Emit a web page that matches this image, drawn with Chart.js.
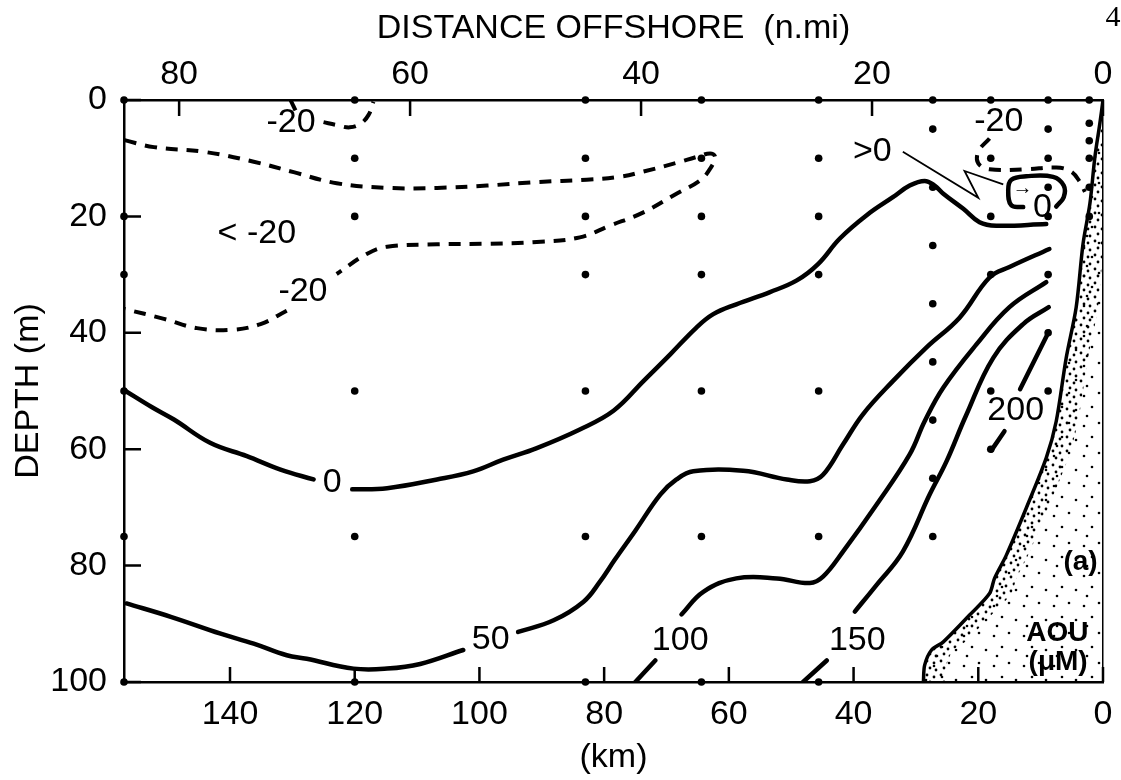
<!DOCTYPE html>
<html>
<head>
<meta charset="utf-8">
<title>AOU section</title>
<script src="https://cdn.jsdelivr.net/npm/chart.js@4.4.0/dist/chart.umd.min.js"></script>
<style>
  html, body { margin: 0; padding: 0; background: #fff; }
  canvas { display: block; }
</style>
</head>
<body>
<canvas id="aouChart" width="1121" height="780"></canvas>
<script>
const KM_PER_NMI = 1.852;
const kmMax = 157;

const kmTicks = [0, 20, 40, 60, 80, 100, 120, 140];
const nmiTicks = [0, 20, 40, 60, 80];
const depthTicks = [0, 20, 40, 60, 80, 100];

// stations: distance offshore (km) and sampled depths (m)
const stationKm = [157, 120, 83, 64.4, 45.6, 27.3, 18, 8.8, 2.2];
const stationDepths = [
    [0, 20, 30, 50, 75, 100],
    [0, 10, 20, 50, 75, 100],
    [0, 10, 20, 30, 50, 75, 100],
    [0, 10, 20, 30, 50, 75, 100],
    [0, 10, 20, 30, 50, 75, 100],
    [0, 5, 15, 25, 35, 45, 55, 65, 75],
    [0, 10, 20, 30, 50, 60],
    [0, 5, 10, 15, 20, 30, 40, 50],
    [0, 4, 7, 10, 15, 20]
];

// contours as [km, depth] pairs, split where the labels sit
const aou0West = [[156.9, 49.9], [152.5, 52.8], [149.0, 54.9], [143.2, 58.9], [137.3, 61.2], [131.9, 63.5], [126.6, 65.2]];
const aou0East = [[120.4, 66.9], [114.8, 66.7], [106.8, 65.2], [101.0, 63.8], [96.2, 61.8], [90.8, 59.8], [83.9, 56.6],
    [78.5, 53.4], [73.7, 48.3], [69.4, 43.7], [65.2, 39.1], [62.5, 36.8], [58.8, 35.1], [53.4, 33.0], [49.1, 31.0],
    [45.7, 28.2], [42.2, 23.8], [37.9, 19.8], [33.7, 16.7], [31.0, 14.7], [28.6, 13.9], [27.0, 14.7], [25.6, 16.1],
    [22.4, 18.7], [19.8, 21.0], [17.1, 21.6], [9.1, 21.3]];
const aou0Loop = [[12.8, 18.4], [14.7, 18.1], [15.2, 15.5], [14.7, 13.7], [12.3, 13.1], [8.0, 13.2], [6.3, 14.7], [6.3, 16.7], [7.5, 18.3]];

const aou50West = [[156.6, 86.5], [149.5, 88.8], [141.5, 91.7], [136.2, 93.4], [130.9, 95.4], [127.7, 96.0], [120.2, 97.7],
    [114.8, 97.7], [109.5, 96.9], [102.6, 94.5]];
const aou50East = [[93.8, 91.4], [88.1, 89.4], [83.3, 86.2], [80.7, 82.8], [78.3, 79.0], [75.0, 74.0], [71.0, 67.8],
    [68.4, 65.2], [65.7, 63.8], [57.7, 63.7], [50.7, 65.2], [47.0, 65.5], [44.9, 64.4], [41.7, 59.2], [38.5, 54.0],
    [33.7, 48.3], [28.3, 42.5], [23.0, 37.4], [18.2, 30.5], [15.0, 28.7], [8.6, 25.6]];

const aou100Foot = [[75.0, 100], [71.8, 96.3]];
const aou100 = [[67.6, 88.4], [64.1, 84.5], [58.8, 82.2], [52.3, 82.2], [47.0, 83.0], [44.9, 81.9], [41.7, 77.6],
    [36.3, 69.5], [31.0, 60.9], [28.6, 55.2], [25.6, 49.4], [20.3, 42.0], [15.0, 35.6], [9.1, 31.3]];

const aou150Foot = [[48.1, 100], [44.3, 96.3]];
const aou150 = [[39.8, 87.9], [36.3, 83.3], [32.1, 77.6], [27.8, 67.8], [25.1, 62.1], [22.0, 54.3], [17.6, 44.3],
    [12.8, 38.5], [8.7, 35.6]];

const aou200 = [[8.7, 39.8], [13.3, 49.7]];
const aou200Tail = [[15.8, 56.9], [17.9, 60.2]];

const aouM20Cap = [[130.3, 0], [129.5, 1.8]];
const aouM20Top = [[125.0, 3.8], [122.9, 4.3], [120.8, 4.7], [119.1, 4.1], [117.8, 2.6], [117.0, 0.3]];
const aouM20Tongue = [[156.9, 6.9], [152.2, 8.1], [144.2, 8.9], [136.2, 10.6], [129.8, 12.4], [122.9, 14.3],
    [114.8, 15.1], [106.8, 15.1], [98.8, 14.7], [90.8, 14.1], [82.8, 13.7], [77.5, 13.2], [73.7, 12.3], [68.4, 10.8],
    [65.2, 9.8], [63.0, 9.2], [62.2, 9.8], [63.0, 11.8], [64.6, 13.8], [68.4, 16.1], [73.7, 19.3], [79.1, 21.6],
    [83.9, 23.6], [90.8, 24.4], [98.8, 24.7], [106.8, 24.8], [114.8, 25.2], [118.0, 26.4], [122.9, 29.9]];
const aouM20Deep = [[130.9, 36.2], [135.1, 38.5], [139.9, 39.5], [145.3, 39.2], [150.6, 37.6], [156.9, 35.9]];
const aouM20Shore = [[18.2, 6.6], [20.0, 8.9], [20.0, 10.9], [18.2, 11.9], [12.3, 11.9], [7.5, 11.6], [5.1, 12.3],
    [3.7, 14.1], [2.9, 15.8]];

const leaderLine = [[32.1, 8.9], [20.0, 16.8], [22.2, 12.2], [16.0, 14.5]];

const seaFloor = [[0, 0], [0.5, 4.0], [1.3, 9.8], [2.1, 17.8], [3.2, 24.7], [4.3, 35.6], [5.9, 44.3], [7.5, 55.2],
    [9.1, 61.5], [12.3, 70.1], [15.5, 78.2], [17.4, 82.2], [18.2, 84.8], [21.4, 88.5], [25.6, 93.1], [27.5, 94.5],
    [28.6, 97.1], [28.8, 100]];

// label text with its [km, depth] anchor
const contourLabels = [
    ['-20', 130.2, 3.9], ['< -20', 135.7, 23.0], ['-20', 128.3, 32.9], ['>0', 37.0, 8.8], ['-20', 16.7, 3.7],
    ['0', 9.7, 18.5], ['0', 123.6, 65.8], ['50', 98.2, 92.7], ['100', 67.8, 92.9], ['150', 39.4, 92.9], ['200', 14.0, 53.4]
];
const panelNotes = [['(a)', 3.6, 79.4], ['AOU', 7.3, 91.6], ['(μM)', 7.2, 96.6]];

const FONT = '"Liberation Sans", Arial, sans-serif';
Chart.defaults.font.family = FONT;
Chart.defaults.color = '#000';

const toXY = arr => arr.map(([x, y]) => ({x, y}));

function stipple(size, dots, r) {
    const c = document.createElement('canvas');
    c.width = c.height = size;
    const g = c.getContext('2d');
    g.fillStyle = '#000';
    dots.forEach(([px, py]) => {
        g.beginPath();
        g.arc(px, py, r, 0, Math.PI * 2);
        g.fill();
    });
    return g.createPattern(c, 'repeat');
}
const sparseDots = stipple(30, [[4, 6], [19, 3], [12, 17], [26, 20], [7, 26]], 1.3);
const denseDots = stipple(14, [[3, 3], [10, 5], [6, 10], [12, 12]], 1.4);

const solid = {borderColor: '#000', borderWidth: 4.5, tension: 0.4, borderCapStyle: 'round', borderJoinStyle: 'round', pointRadius: 0};
const dashed = {...solid, borderWidth: 4, borderDash: [12, 9], borderCapStyle: 'butt'};

const stationPoints = [];
stationKm.forEach((km, i) => {
    stationDepths[i].forEach(d => stationPoints.push({x: km, y: d}));
});

const datasets = [
    {data: toXY(seaFloor), indexAxis: 'y', borderColor: '#000', borderWidth: 3.5, tension: 0.3, pointRadius: 0,
        fill: {value: 0}, backgroundColor: sparseDots},
    {data: toXY(seaFloor.map(([km, d]) => [Math.max(km - 3.5, 0), d])), indexAxis: 'y',
        borderColor: 'rgba(0,0,0,0)', borderWidth: 1, tension: 0.3, pointRadius: 0, fill: 0, backgroundColor: denseDots},
    {...solid, data: toXY(aou0West)},
    {...solid, data: toXY(aou0East)},
    {...solid, data: toXY(aou0Loop)},
    {...solid, data: toXY(aou50West)},
    {...solid, data: toXY(aou50East)},
    {...solid, data: toXY(aou100Foot)},
    {...solid, data: toXY(aou100)},
    {...solid, data: toXY(aou150Foot)},
    {...solid, data: toXY(aou150)},
    {...solid, data: toXY(aou200), tension: 0},
    {...solid, data: toXY(aou200Tail), tension: 0},
    {...dashed, data: toXY(aouM20Cap), tension: 0},
    {...dashed, data: toXY(aouM20Top)},
    {...dashed, data: toXY(aouM20Tongue)},
    {...dashed, data: toXY(aouM20Deep)},
    {...dashed, data: toXY(aouM20Shore)},
    {data: toXY(leaderLine), borderColor: '#000', borderWidth: 1.8, tension: 0, pointRadius: 0},
    {data: stationPoints, showLine: false, pointRadius: 3.8, pointBackgroundColor: '#000', pointBorderWidth: 0, clip: false}
];

// inward tick marks, contour labels and the page number
const sectionDecor = {
    id: 'sectionDecor',
    afterDatasetsDraw(chart) {
        const {ctx, chartArea, scales} = chart;
        ctx.save();
        ctx.strokeStyle = '#000';
        ctx.lineWidth = 2.5;
        ctx.beginPath();
        depthTicks.forEach(v => {
            const py = scales.y.getPixelForValue(v);
            ctx.moveTo(chartArea.left, py);
            ctx.lineTo(chartArea.left + 17, py);
        });
        kmTicks.forEach(v => {
            const px = scales.x.getPixelForValue(v);
            ctx.moveTo(px, chartArea.bottom);
            ctx.lineTo(px, chartArea.bottom - 15);
        });
        nmiTicks.forEach(v => {
            const px = scales.x2.getPixelForValue(v);
            ctx.moveTo(px, chartArea.top);
            ctx.lineTo(px, chartArea.top + 16);
        });
        ctx.stroke();

        ctx.fillStyle = '#000';
        ctx.textAlign = 'center';
        ctx.textBaseline = 'middle';
        ctx.font = '34px ' + FONT;
        contourLabels.forEach(([text, km, d]) => {
            ctx.fillText(text, scales.x.getPixelForValue(km), scales.y.getPixelForValue(d));
        });
        ctx.font = 'bold 20px ' + FONT;
        ctx.fillText('→', scales.x.getPixelForValue(12.9), scales.y.getPixelForValue(15.2));
        ctx.font = 'bold 28px ' + FONT;
        panelNotes.forEach(([text, km, d]) => {
            ctx.fillText(text, scales.x.getPixelForValue(km), scales.y.getPixelForValue(d));
        });
        ctx.font = '30px "Liberation Serif", serif';
        ctx.fillText('4', chart.width - 8, 18);
        ctx.restore();
    }
};

const tickFont = {size: 34, lineHeight: 1};
const titleFont = {size: 34, lineHeight: 1.2};

new Chart(document.getElementById('aouChart'), {
    type: 'line',
    data: {datasets},
    options: {
        responsive: false,
        devicePixelRatio: 1,
        animation: false,
        layout: {padding: 0},
        plugins: {legend: {display: false}, tooltip: {enabled: false}},
        scales: {
            x: {
                type: 'linear', position: 'bottom', reverse: true, min: 0, max: kmMax,
                afterBuildTicks: s => { s.ticks = kmTicks.map(value => ({value})); },
                afterFit: s => { s.height = 98; },
                grid: {display: false},
                border: {display: true, color: '#000', width: 2.5},
                ticks: {font: tickFont, padding: 8, maxRotation: 0},
                title: {display: true, text: '(km)', font: titleFont, padding: {top: 0, bottom: 2}}
            },
            x2: {
                type: 'linear', position: 'top', reverse: true, min: 0, max: kmMax / KM_PER_NMI,
                afterBuildTicks: s => { s.ticks = nmiTicks.map(value => ({value})); },
                afterFit: s => { s.height = 100; },
                grid: {display: false},
                border: {display: true, color: '#000', width: 2.5},
                ticks: {font: tickFont, padding: 0, maxRotation: 0},
                title: {display: true, text: 'DISTANCE OFFSHORE  (n.mi)', font: titleFont, padding: {top: 8, bottom: 0}}
            },
            y: {
                type: 'linear', position: 'left', reverse: true, min: 0, max: 100,
                afterBuildTicks: s => { s.ticks = depthTicks.map(value => ({value})); },
                afterFit: s => { s.width = 124; },
                grid: {display: false},
                border: {display: true, color: '#000', width: 2.5},
                ticks: {font: tickFont, padding: 9},
                title: {display: true, text: 'DEPTH (m)', font: titleFont, padding: {top: 8, bottom: 0}}
            },
            y2: {
                type: 'linear', position: 'right', reverse: true, min: 0, max: 100,
                afterFit: s => { s.width = 18; },
                grid: {display: false},
                border: {display: true, color: '#000', width: 1.5, dash: [5, 4]},
                ticks: {display: false}
            }
        }
    },
    plugins: [sectionDecor]
});
</script>
</body>
</html>
